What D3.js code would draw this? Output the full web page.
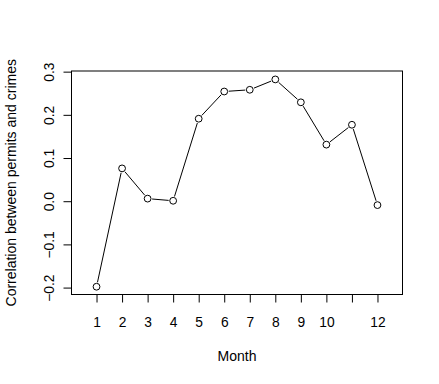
<!DOCTYPE html>
<html>
  <head>
    <meta charset="UTF-8">
    <title>correlation by month</title>
    <style>
      body { margin: 0; background: #fff; }
      svg text { font-family: "Liberation Sans", Arial, sans-serif; font-size: 13.8px; fill: #000; }
      svg text.title { font-size: 14px; }
      .axis path { display: none; }
      .axis line { stroke: #000; }
    </style>
    <script src="https://d3js.org/d3.v7.min.js"></script>
  </head>
  <body>
    <div id="chart"></div>
    <script>
      // data
      var months = [1, 2, 3, 4, 5, 6, 7, 8, 9, 10, 11, 12];
      var corr = [-0.198, 0.076, 0.006, 0.001, 0.191, 0.254, 0.258, 0.282, 0.229, 0.131, 0.177, -0.009];
      var xTickLabels = ["1", "2", "3", "4", "5", "6", "7", "8", "9", "10", "", "12"];
      var yTicks = [-0.2, -0.1, 0.0, 0.1, 0.2, 0.3];

      var W = 439, H = 384;
      var box = {left: 71.5, right: 402.5, top: 71, bottom: 294.5};

      var svg = d3.select("#chart").append("svg")
        .attr("width", W)
        .attr("height", H);

      var x = d3.scaleLinear().domain([0.02, 12.98]).range([box.left, box.right]);
      var y = d3.scaleLinear().domain([-0.216, 0.3015]).range([box.bottom, box.top]);

      // x axis
      var xAxis = d3.axisBottom(x)
        .tickValues(months)
        .tickSize(8)
        .tickSizeOuter(0)
        .tickPadding(14.5)
        .tickFormat(function(d, i) { return xTickLabels[i]; });
      svg.append("g")
        .attr("class", "axis")
        .attr("transform", "translate(0," + box.bottom + ")")
        .call(xAxis)
        .attr("font-size", null)
        .attr("font-family", null);

      // y axis, labels turned like R does
      var yAxis = d3.axisLeft(y)
        .tickValues(yTicks)
        .tickSize(8)
        .tickSizeOuter(0)
        .tickFormat(function(d) { return d3.format(".1f")(d).replace("-", "\u2212"); });
      var gy = svg.append("g")
        .attr("class", "axis")
        .attr("transform", "translate(" + box.left + ",0)")
        .call(yAxis)
        .attr("font-size", null)
        .attr("font-family", null);
      gy.selectAll("text")
        .attr("x", null)
        .attr("dy", null)
        .attr("text-anchor", "middle")
        .attr("transform", "translate(-18,0) rotate(-90)")
        .attr("y", 0);

      // frame
      svg.append("rect")
        .attr("x", box.left)
        .attr("y", box.top)
        .attr("width", box.right - box.left)
        .attr("height", box.bottom - box.top)
        .attr("fill", "none")
        .attr("stroke", "#000");

      var pts = months.map(function(m, i) { return [m, corr[i]]; });

      // R type="b": segments stop short of the circles
      var r = 3.4, gap = 4.5;
      svg.append("g").selectAll("line.seg")
        .data(d3.pairs(pts))
        .enter().append("line")
          .attr("class", "seg")
          .each(function(p) {
            var x1 = x(p[0][0]), y1 = y(p[0][1]), x2 = x(p[1][0]), y2 = y(p[1][1]);
            var dx = x2 - x1, dy = y2 - y1, len = Math.sqrt(dx * dx + dy * dy);
            var ux = dx / len, uy = dy / len;
            d3.select(this)
              .attr("x1", x1 + ux * gap).attr("y1", y1 + uy * gap)
              .attr("x2", x2 - ux * gap).attr("y2", y2 - uy * gap);
          })
          .attr("stroke", "#000")
          .attr("stroke-width", 1);

      svg.append("g").selectAll("circle")
        .data(pts)
        .enter().append("circle")
          .attr("cx", function(d) { return x(d[0]); })
          .attr("cy", function(d) { return y(d[1]); })
          .attr("r", r)
          .attr("fill", "none")
          .attr("stroke", "#000");

      // axis titles
      svg.append("text")
        .attr("class", "title")
        .attr("x", (box.left + box.right) / 2)
        .attr("y", 361)
        .attr("text-anchor", "middle")
        .text("Month");

      svg.append("text")
        .attr("class", "title")
        .attr("transform", "translate(15.5," + ((box.top + box.bottom) / 2) + ") rotate(-90)")
        .attr("text-anchor", "middle")
        .text("Correlation between permits and crimes");
    </script>
  </body>
</html>
